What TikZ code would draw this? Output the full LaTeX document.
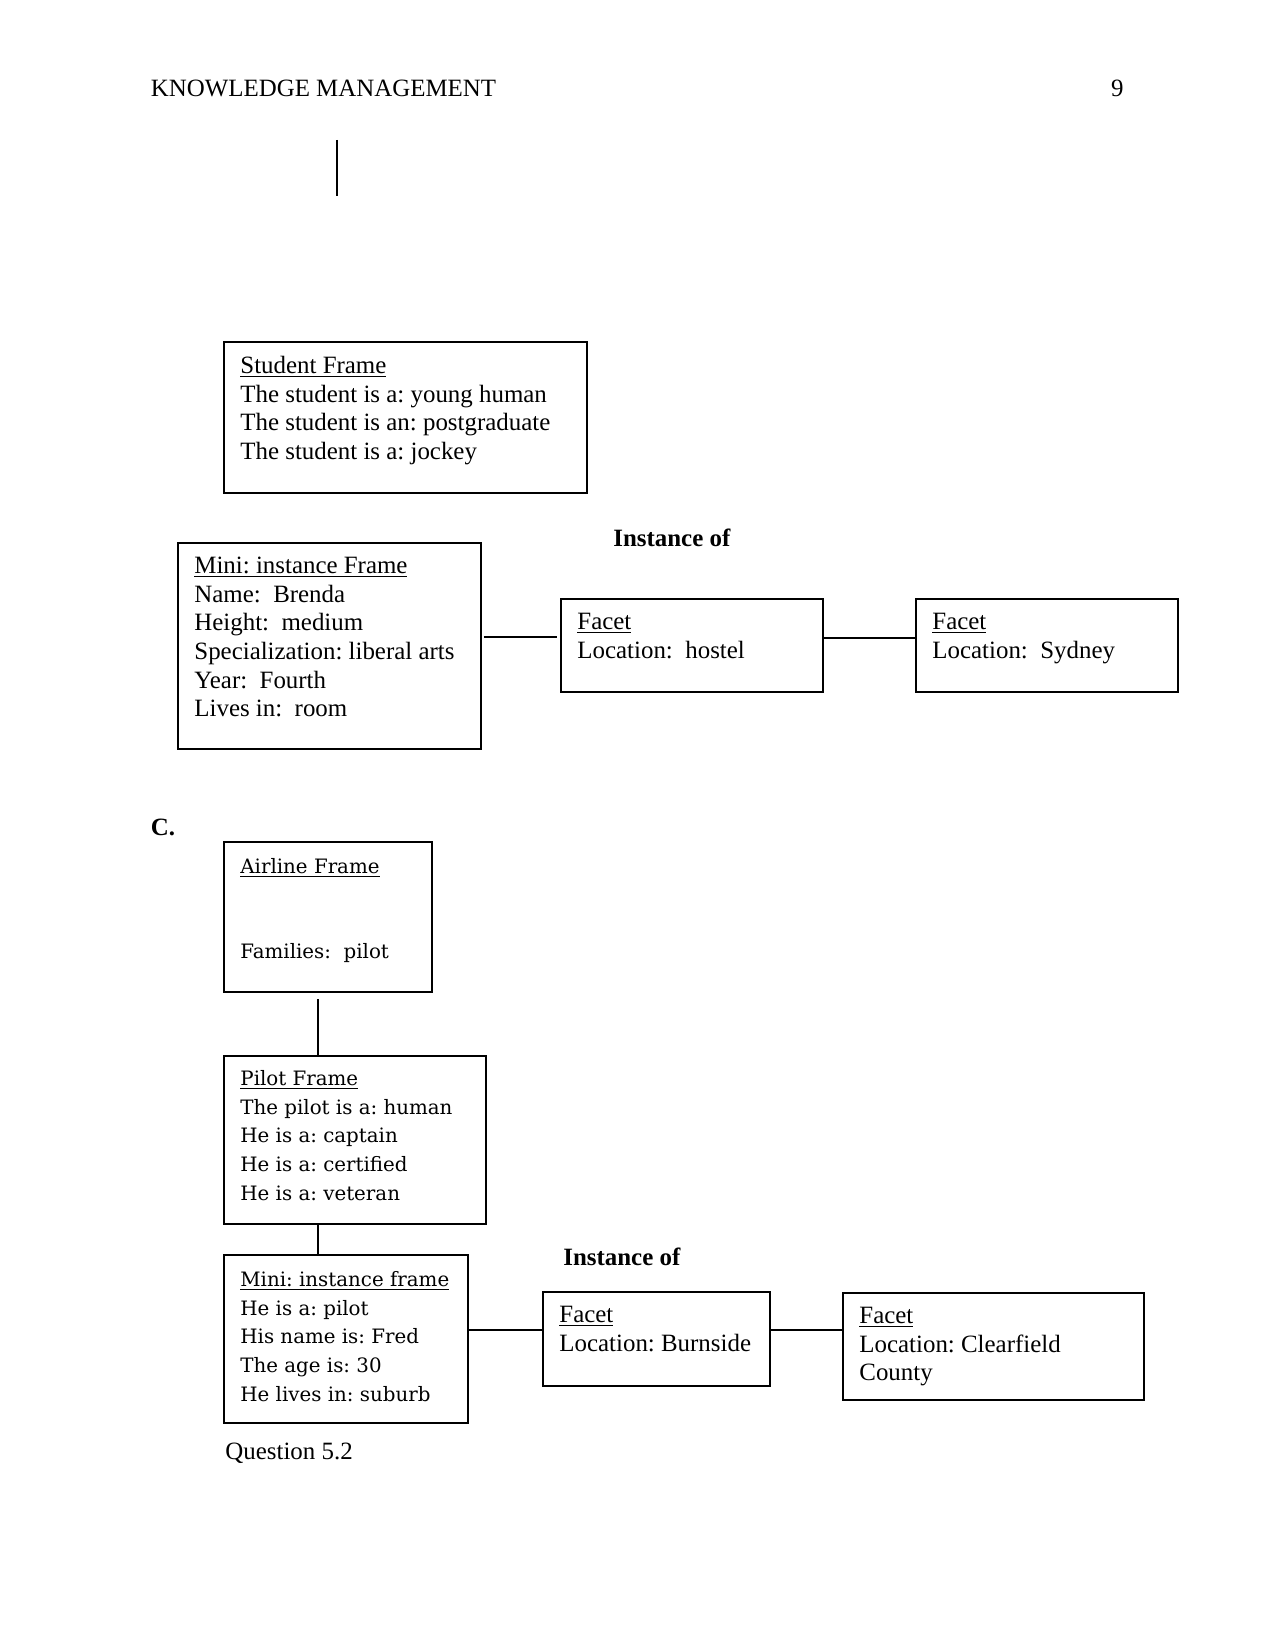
\documentclass[tikz,border=0pt]{standalone}
\usepackage{fontspec}
\setmainfont{Liberation Serif}
\newfontfamily\dvs{DejaVu Serif}
\usetikzlibrary{fit}
\frenchspacing
\tikzset{
  box/.style={draw, line width=0.8pt, inner sep=0pt},
  conn/.style={draw, line width=0.7pt},
  txt/.style={anchor=north west, inner sep=0pt, align=left, font=\frenchspacing\fontsize{12}{13.8}\selectfont},
  dtxt/.style={anchor=north west, inner sep=0pt, align=left, font=\frenchspacing\dvs\fontsize{9.55}{13.8}\selectfont},
  lbl/.style={anchor=base west, inner sep=0pt, font=\fontsize{12}{13.8}\selectfont},
  blbl/.style={anchor=base west, inner sep=0pt, font=\fontsize{12}{13.8}\selectfont\bfseries}
}
\begin{document}
\begin{tikzpicture}[x=0.4818pt, y=-0.4818pt]
\useasboundingbox (0,0) rectangle (1275,1651);
% header
\node[lbl] (hdr) at (150.5,97) {KNOWLEDGE MANAGEMENT};
\node[lbl, anchor=base east] (pg) at (1124,97) {9};
\coordinate (t1) at (337,140);
\coordinate (t2) at (337,196);
\draw[conn] (t1) -- (t2);

% boxes part 1
\node[box, fit={(224,342) (587,493)}] (student) {};
\node[box, fit={(178,543) (481,749)}] (mini1) {};
\node[box, fit={(561,599) (823,692)}] (facet1) {};
\node[box, fit={(916,599) (1178,692)}] (facet2) {};

\node[txt] (studentT) at (240,353) {\strut\underline{Student Frame}\\The student is a: young human\\The student is an: postgraduate\\The student is a: jockey};
\node[txt] (mini1T) at (194,553) {\strut\underline{Mini: instance Frame}\\Name:\ \ Brenda\\Height:\ \ medium\\Specialization: liberal arts\\Year:\ \ Fourth\\Lives in:\ \ room};
\node[blbl] (inst1) at (613,546) {Instance of};
\node[txt] (facet1T) at (577,609) {\strut\underline{Facet}\\Location:\ \ hostel};
\node[txt] (facet2T) at (932,609) {\strut\underline{Facet}\\Location:\ \ Sydney};

\coordinate (r1) at (0,637);
\coordinate (r2) at (0,638);
\draw[conn, line width=1pt] ([xshift=1pt]mini1.east |- r1) -- ([xshift=-1.5pt]facet1.west |- r1);
\draw[conn] (facet1.east |- r2) -- (facet2.west |- r2);

% part C
\node[blbl] (C) at (150.5,835) {C.};
\node[box, fit={(224,842) (432,992)}] (airline) {};
\node[box, fit={(224,1056) (486,1224)}] (pilot) {};
\node[box, fit={(224,1255) (468,1423)}] (mini2) {};
\node[box, fit={(543,1292) (770,1386)}] (facet3) {};
\node[box, fit={(843,1293) (1144,1400)}] (facet4) {};

\node[dtxt] (airlineT) at (240,853) {\strut\underline{Airline Frame}};
\node[dtxt] (airlineT2) at (240,938) {\strut Families:\ \ pilot};
\node[dtxt] (pilotT) at (240,1065) {\strut\underline{Pilot Frame}\\The pilot is a: human\\He is a: captain\\He is a: certified\\He is a: veteran};
\node[dtxt] (mini2T) at (240,1266) {\strut\underline{Mini: instance frame}\\He is a: pilot\\His name is: Fred\\The age is: 30\\He lives in: suburb};
\node[blbl] (inst2) at (563,1265) {Instance of};
\node[txt] (facet3T) at (559,1302) {\strut\underline{Facet}\\Location: Burnside};
\node[txt] (facet4T) at (859,1303) {\strut\underline{Facet}\\Location: Clearfield\\County};

\coordinate (cx) at (318,0);
\coordinate (r3) at (0,1330);
\draw[conn] ([yshift=-3pt]airline.south -| cx) -- (pilot.north -| cx);
\draw[conn] (pilot.south -| cx) -- (mini2.north -| cx);
\draw[conn] (mini2.east |- r3) -- (facet3.west |- r3);
\draw[conn] (facet3.east |- r3) -- (facet4.west |- r3);

\node[lbl] (q) at (225,1459) {Question 5.2};
\end{tikzpicture}
\end{document}
